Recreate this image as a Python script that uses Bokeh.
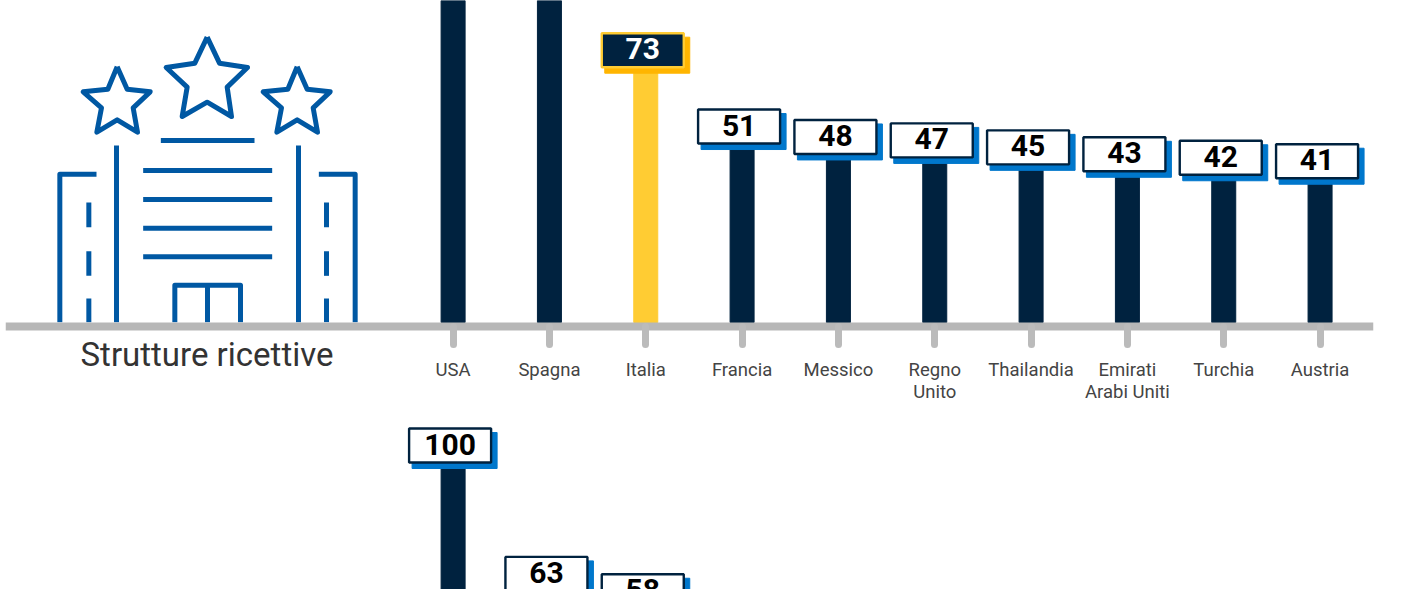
from bokeh.plotting import figure
from bokeh.layouts import column
from bokeh.models import Range1d, LinearAxis, FixedTicker
from bokeh.core.properties import value
from bokeh.embed import file_html
from bokeh.resources import INLINE

# Data
categories = ["USA", "Spagna", "Italia", "Francia", "Messico", "Regno\nUnito", "Thailandia", "Emirati\nArabi Uniti", "Turchia", "Austria"]
hotel_values = [100, 95, 73, 51, 48, 47, 45, 43, 42, 41]
second_values = [100, 63, 58]
highlight = "Italia"
panel_title = "Strutture ricettive"

# Icon outline, in pixel coordinates x3 relative to (0,20)
star_mid = [(620,50),(657,128),(741,141),(680,200),(693,288),(620,245),(545,288),(560,200),(497,141),(583,128),(620,50)]
star_left = [(350,139),(380,206),(449,214),(398,262),(411,335),(350,298),(289,335),(303,262),(248,214),(322,206),(350,139)]
star_right = [(x+540,y) for x,y in star_left]
icon_paths = [
    star_mid, star_left, star_right,
    [(481,360),(762,360)],
    [(348,375),(348,905)], [(894,375),(894,905)],
    [(428,450),(815,450)], [(428,537),(815,537)], [(428,623),(815,623)], [(428,709),(815,709)],
    [(178,905),(178,461),(288,461)], [(1064,905),(1064,461),(955,461)],
    [(265,546),(265,620)], [(265,692),(265,766)], [(265,834),(265,905)],
    [(978,546),(978,620)], [(978,692),(978,766)], [(978,834),(978,905)],
    [(523,905),(523,794),(720,794),(720,905)], [(621,794),(621,905)],
]

NAVY, BLUE, YEL, AMB, GREY, ICON = "#00223F", "#0077CC", "#FFCC33", "#FFB500", "#B7B7B7", "#0058A3"
W, L, R = 1406, 5, 1373
STEP, X0, PPU = 96.33, 452.6, 3.47
NUM_FONT = value("Roboto")
TXT_FONT = value("Roboto")

def panel(vals, h, y_px_base):
    y_rng = Range1d((y_px_base - h) / PPU, y_px_base / PPU)
    x_rng = Range1d((L - X0) / STEP, (R - X0) / STEP)
    p = figure(width=W, height=h, x_range=x_rng, y_range=y_rng, output_backend="svg", toolbar_location=None,
               x_axis_type=None, y_axis_type=None, min_border_left=L, min_border_right=W - R,
               min_border_top=0, min_border_bottom=0, outline_line_color=None)
    p.grid.visible = False
    idx = list(range(len(vals)))
    names = categories[:len(vals)]
    is_h = [c == highlight and h > 300 for c in names]
    p.vbar(x=idx, bottom=0, top=vals, width=24 / STEP, color=[YEL if b else NAVY for b in is_h])
    # the value flags of bars that run off the top of the panel are out of view
    seen = [i for i in idx if (vals[i] * PPU + 40) < y_px_base]
    p.rect(x=[i + 1.5 / STEP for i in seen], y=[vals[i] + (180 - 166) / PPU for i in seen], width=85, height=36,
           width_units="screen", height_units="screen", color=[AMB if is_h[i] else BLUE for i in seen])
    p.rect(x=[i - 3 / STEP for i in seen], y=[vals[i] + 19 / PPU for i in seen], width=82, height=34,
           width_units="screen", height_units="screen",
           fill_color=[NAVY if is_h[i] else "white" for i in seen],
           line_color=[YEL if is_h[i] else NAVY for i in seen], line_width=2.4)
    p.text(x=[i - 3 / STEP for i in seen], y=[vals[i] + 20.5 / PPU for i in seen], text=[str(vals[i]) for i in seen],
           text_align="center", text_baseline="middle", text_font=NUM_FONT, text_font_style="bold",
           text_font_size="30px", text_color=["white" if is_h[i] else "black" for i in seen])
    return p

top_h = 420
BASE = 322
p1 = panel(hotel_values, top_h, BASE)

# icon in page pixels
p1.extra_x_ranges["px"] = Range1d(L, R)
p1.extra_y_ranges["px"] = Range1d(top_h, 0)
p1.multi_line(xs=[[x / 3 for x, _ in path] for path in icon_paths],
              ys=[[y / 3 + 20 for _, y in path] for path in icon_paths],
              line_color=ICON, line_width=5, line_join="round", line_cap="butt",
              x_range_name="px", y_range_name="px")

first_lines = {i: c.split("\n")[0] for i, c in enumerate(categories)}
ax = LinearAxis(ticker=FixedTicker(ticks=list(range(len(categories)))), major_label_overrides=first_lines,
                fixed_location=-4 / PPU)
ax.axis_line_color = GREY
ax.axis_line_width = 8
ax.major_tick_line_color = "#BBBBBB"
ax.major_tick_line_width = 7
ax.major_tick_line_cap = "round"
ax.major_tick_out = 18
ax.major_tick_in = 0
ax.minor_tick_line_color = None
ax.major_label_standoff = 14
ax.major_label_text_font = "Roboto"
ax.major_label_text_font_size = "18.5px"
ax.major_label_text_color = "#444444"
p1.add_layout(ax, "below")

second = [(i, c.split("\n")[1]) for i, c in enumerate(categories) if "\n" in c]
p1.text(x=[i for i, _ in second], y=[(BASE - 391) / PPU] * len(second), text=[t for _, t in second],
        text_font=TXT_FONT, text_font_size="18.5px", text_color="#444444",
        text_align="center", text_baseline="middle")

p1.text(x=[206.5], y=[354], text=[panel_title], x_range_name="px", y_range_name="px",
        text_font=TXT_FONT, text_font_size="33px", text_color="#333333",
        text_align="center", text_baseline="middle")

p2 = panel(second_values, 589 - top_h, 811 - top_h)

page = column(p1, p2, spacing=0, width=W, height=589)
page.styles = {"position": "absolute", "left": "0px", "top": "0px"}
open("out.html", "w").write(file_html(page, INLINE))
